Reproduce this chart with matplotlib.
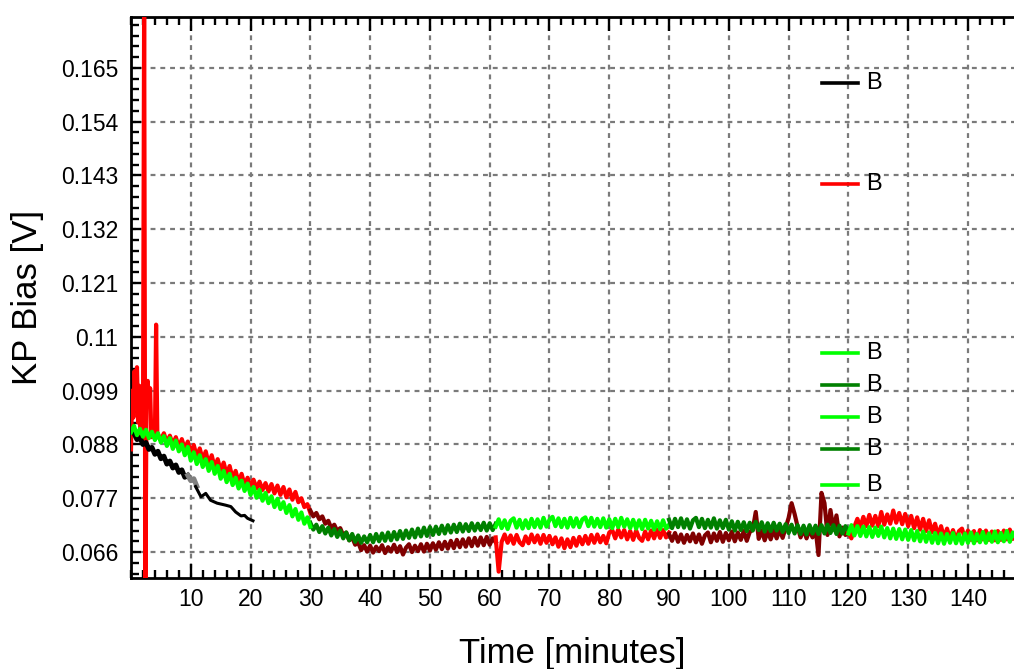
import numpy as np
import matplotlib
matplotlib.use("Agg")
import matplotlib.pyplot as plt
from matplotlib.ticker import FixedLocator, MultipleLocator

plt.rcParams['font.family'] = ['Liberation Sans', 'DejaVu Sans']

# ---------------- data ----------------
# Block 1 : 0 - 30 min
t_green1 = np.arange(0, 30.01, 0.5)
v_green1 = [0.0905, 0.0918, 0.0899, 0.0912, 0.0896, 0.0910, 0.0893, 0.0906, 0.0889, 0.0903,
            0.0884, 0.0897, 0.0877, 0.0893, 0.0871, 0.0888, 0.0866, 0.0880, 0.0858, 0.0875,
            0.0847, 0.0864, 0.0840, 0.0858, 0.0834, 0.0850, 0.0826, 0.0844, 0.0820, 0.0836,
            0.0810, 0.0826, 0.0803, 0.0820, 0.0797, 0.0812, 0.0790, 0.0806, 0.0785, 0.0800,
            0.0777, 0.0793, 0.0771, 0.0787, 0.0765, 0.0781, 0.0760, 0.0774, 0.0752, 0.0769,
            0.0748, 0.0762, 0.0740, 0.0756, 0.0733, 0.0748, 0.0726, 0.0741, 0.0718, 0.0731,
            0.0712]

t_red1_early = [0.0, 0.2, 0.4, 0.6, 0.8, 1.0, 1.2, 1.4, 1.6, 1.8, 2.0, 2.2, 2.4, 2.6, 2.8,
                3.0, 3.2, 3.4, 3.7, 4.0, 4.2, 4.4, 4.7]
v_red1_early = [0.0870, 0.0990, 0.0935, 0.1030, 0.0960, 0.1038, 0.0925, 0.1000, 0.0900, 0.0975,
                0.0895, 0.1800, 0.0550, 0.0990, 0.1010, 0.0960, 0.0995, 0.0895, 0.0905, 0.0898,
                0.1125, 0.0905, 0.0895]
t_red1_late = np.arange(5, 30.01, 0.5)
v_red1_late = [0.0890, 0.0903, 0.0884, 0.0898, 0.0880, 0.0895, 0.0874, 0.0891, 0.0870, 0.0886,
               0.0862, 0.0879, 0.0855, 0.0872, 0.0848, 0.0866, 0.0840, 0.0858, 0.0833, 0.0850,
               0.0826, 0.0843, 0.0819, 0.0836, 0.0810, 0.0826, 0.0803, 0.0820, 0.0797, 0.0812,
               0.0794, 0.0808, 0.0790, 0.0804, 0.0787, 0.0801, 0.0784, 0.0799, 0.0780, 0.0796,
               0.0777, 0.0793, 0.0772, 0.0788, 0.0767, 0.0783, 0.0762, 0.0770, 0.0752, 0.0758,
               0.0740]

t_black_noisy = np.arange(0.5, 9.51, 0.5)
v_black_noisy = [0.0903, 0.0890, 0.0894, 0.0880, 0.0884, 0.0870, 0.0874, 0.0860, 0.0866, 0.0851,
                 0.0856, 0.0840, 0.0846, 0.0832, 0.0838, 0.0823, 0.0828, 0.0813, 0.0817]
t_gray = [9.5, 10.0, 10.5, 11.0]
v_gray = [0.0817, 0.0806, 0.0810, 0.0795]
t_black_smooth = [10.8, 11.7, 12.5, 13.3, 14.4, 15.8, 16.7, 17.5, 18.4, 19.0, 19.5, 20.4]
v_black_smooth = [0.0794, 0.0773, 0.0780, 0.0766, 0.0760, 0.0756, 0.0753, 0.0742, 0.0734,
                  0.0735, 0.0729, 0.0724]

# Block 2 : 30 - 61 min
t_block2 = np.arange(30, 61.01, 0.5)
v_maroon2 = [0.0745, 0.0733, 0.0740, 0.0727, 0.0733, 0.0718, 0.0724, 0.0709, 0.0716, 0.0703,
             0.0709, 0.0694, 0.0700, 0.0684, 0.0690, 0.0675, 0.0680, 0.0664, 0.0674, 0.0661,
             0.0673, 0.0659, 0.0671, 0.0662, 0.0674, 0.0658, 0.0670, 0.0661, 0.0675, 0.0660,
             0.0672, 0.0655, 0.0669, 0.0676, 0.0660, 0.0673, 0.0662, 0.0676, 0.0661, 0.0677,
             0.0663, 0.0678, 0.0665, 0.0680, 0.0666, 0.0681, 0.0667, 0.0683, 0.0668, 0.0685,
             0.0670, 0.0686, 0.0671, 0.0688, 0.0672, 0.0689, 0.0673, 0.0690, 0.0674, 0.0691,
             0.0675, 0.0688, 0.0680]
v_dkgreen2 = [0.0720, 0.0706, 0.0716, 0.0701, 0.0713, 0.0698, 0.0710, 0.0694, 0.0707, 0.0691,
              0.0704, 0.0688, 0.0700, 0.0684, 0.0697, 0.0681, 0.0694, 0.0679, 0.0692, 0.0680,
              0.0695, 0.0680, 0.0697, 0.0682, 0.0698, 0.0683, 0.0700, 0.0684, 0.0701, 0.0686,
              0.0703, 0.0687, 0.0704, 0.0689, 0.0706, 0.0690, 0.0708, 0.0692, 0.0710, 0.0693,
              0.0711, 0.0695, 0.0712, 0.0697, 0.0714, 0.0698, 0.0715, 0.0700, 0.0716, 0.0701,
              0.0718, 0.0702, 0.0717, 0.0703, 0.0719, 0.0704, 0.0718, 0.0705, 0.0720, 0.0704,
              0.0719, 0.0705, 0.0718]

# Block 3 : 61 - 90 min
t_block3 = np.arange(61, 90.01, 0.5)
v_red3 = [0.0690, 0.0620, 0.0681, 0.0696, 0.0679, 0.0694, 0.0677, 0.0695, 0.0680, 0.0674,
          0.0692, 0.0678, 0.0696, 0.0680, 0.0694, 0.0677, 0.0695, 0.0679, 0.0693, 0.0676,
          0.0690, 0.0671, 0.0688, 0.0668, 0.0686, 0.0670, 0.0689, 0.0673, 0.0691, 0.0676,
          0.0693, 0.0677, 0.0695, 0.0679, 0.0696, 0.0680, 0.0693, 0.0678, 0.0700, 0.0705,
          0.0688, 0.0706, 0.0690, 0.0705, 0.0686, 0.0703, 0.0685, 0.0704, 0.0689, 0.0683,
          0.0702, 0.0686, 0.0704, 0.0688, 0.0706, 0.0689, 0.0705, 0.0690, 0.0700]
v_green3 = [0.0712, 0.0727, 0.0709, 0.0725, 0.0707, 0.0724, 0.0729, 0.0710, 0.0726, 0.0708,
            0.0725, 0.0709, 0.0728, 0.0711, 0.0727, 0.0710, 0.0730, 0.0712, 0.0726, 0.0732,
            0.0713, 0.0729, 0.0711, 0.0728, 0.0710, 0.0730, 0.0712, 0.0729, 0.0711, 0.0727,
            0.0731, 0.0713, 0.0730, 0.0712, 0.0728, 0.0711, 0.0729, 0.0710, 0.0727, 0.0709,
            0.0728, 0.0711, 0.0730, 0.0712, 0.0727, 0.0709, 0.0726, 0.0708, 0.0725, 0.0707,
            0.0726, 0.0708, 0.0724, 0.0706, 0.0723, 0.0707, 0.0725, 0.0708, 0.0716]

# Block 4 : 90 - 120 min
t_block4 = np.arange(90, 120.01, 0.5)
v_maroon4 = [0.0697, 0.0683, 0.0699, 0.0681, 0.0696, 0.0679, 0.0695, 0.0682, 0.0698, 0.0680,
             0.0696, 0.0677, 0.0694, 0.0700, 0.0680, 0.0698, 0.0683, 0.0701, 0.0681, 0.0699,
             0.0684, 0.0702, 0.0682, 0.0700, 0.0685, 0.0703, 0.0683, 0.0701, 0.0706, 0.0742,
             0.0687, 0.0704, 0.0684, 0.0703, 0.0686, 0.0705, 0.0688, 0.0706, 0.0689, 0.0710,
             0.0730, 0.0760, 0.0738, 0.0712, 0.0690, 0.0707, 0.0688, 0.0706, 0.0690, 0.0708,
             0.0654, 0.0781, 0.0760, 0.0695, 0.0746, 0.0706, 0.0735, 0.0692, 0.0710, 0.0695,
             0.0698]
v_dkgreen4 = [0.0726, 0.0709, 0.0728, 0.0711, 0.0729, 0.0710, 0.0727, 0.0708, 0.0725, 0.0730,
              0.0711, 0.0728, 0.0709, 0.0726, 0.0710, 0.0729, 0.0708, 0.0725, 0.0709, 0.0726,
              0.0706, 0.0723, 0.0704, 0.0722, 0.0705, 0.0721, 0.0703, 0.0720, 0.0704, 0.0722,
              0.0705, 0.0721, 0.0702, 0.0719, 0.0703, 0.0720, 0.0704, 0.0718, 0.0701, 0.0717,
              0.0699, 0.0716, 0.0698, 0.0715, 0.0697, 0.0714, 0.0696, 0.0715, 0.0698, 0.0714,
              0.0697, 0.0715, 0.0698, 0.0716, 0.0699, 0.0715, 0.0697, 0.0714, 0.0698, 0.0713,
              0.0704]

# Block 5 : 120 - 148 min
t_block5 = np.arange(120, 148.01, 0.5)
v_red5 = [0.0700, 0.0688, 0.0712, 0.0728, 0.0711, 0.0732, 0.0713, 0.0736, 0.0714, 0.0734,
          0.0713, 0.0742, 0.0716, 0.0737, 0.0718, 0.0745, 0.0720, 0.0740, 0.0717, 0.0738,
          0.0713, 0.0734, 0.0709, 0.0731, 0.0706, 0.0728, 0.0703, 0.0725, 0.0700, 0.0718,
          0.0693, 0.0713, 0.0689, 0.0708, 0.0687, 0.0705, 0.0684, 0.0703, 0.0708, 0.0687,
          0.0704, 0.0685, 0.0703, 0.0684, 0.0705, 0.0686, 0.0704, 0.0685, 0.0702, 0.0684,
          0.0703, 0.0685, 0.0704, 0.0686, 0.0706, 0.0687, 0.0695]
v_green5 = [0.0698, 0.0715, 0.0694, 0.0713, 0.0693, 0.0712, 0.0692, 0.0711, 0.0691, 0.0710,
            0.0693, 0.0712, 0.0690, 0.0709, 0.0688, 0.0708, 0.0687, 0.0707, 0.0686, 0.0706,
            0.0685, 0.0705, 0.0684, 0.0703, 0.0682, 0.0702, 0.0681, 0.0700, 0.0679, 0.0699,
            0.0678, 0.0698, 0.0677, 0.0697, 0.0679, 0.0699, 0.0678, 0.0696, 0.0677, 0.0698,
            0.0679, 0.0700, 0.0678, 0.0697, 0.0680, 0.0701, 0.0679, 0.0698, 0.0681, 0.0702,
            0.0680, 0.0699, 0.0682, 0.0703, 0.0681, 0.0700, 0.0690]

y_ticks = [0.066, 0.077, 0.088, 0.099, 0.11, 0.121, 0.132, 0.143, 0.154, 0.165]
y_tick_labels = ["0.066", "0.077", "0.088", "0.099", "0.11", "0.121", "0.132", "0.143", "0.154", "0.165"]
x_ticks = [10, 20, 30, 40, 50, 60, 70, 80, 90, 100, 110, 120, 130, 140]
x_tick_labels = [str(v) for v in x_ticks]

legend_labels = ["B", "B", "B", "B", "B", "B", "B"]
legend_colors = ["#000000", "#FF0000", "#00FF00", "#008000", "#00FF00", "#008000", "#00FF00"]

RED = "#FF0000"
GREEN = "#00FF00"
DKGREEN = "#008000"
MAROON = "#800000"

# ---------------- figure ----------------
W, H = 1014, 669
fig = plt.figure(figsize=(W / 100, H / 100), dpi=100)
ax = fig.add_axes([131 / W, (H - 578) / H, (W - 131) / W, (578 - 17) / H])

lw = 3.0
ax.plot(t_red1_early, v_red1_early, color=RED, lw=lw, zorder=3)
ax.plot(t_red1_late, v_red1_late, color=RED, lw=lw, zorder=3)
ax.plot(t_black_noisy, v_black_noisy, color="black", lw=lw + 0.6, zorder=4)
ax.plot(t_gray, v_gray, color="#808080", lw=lw + 0.6, zorder=4)
ax.plot(t_black_smooth, v_black_smooth, color="black", lw=2.2, zorder=4)
ax.plot(t_green1, v_green1, color=GREEN, lw=lw, zorder=5)

ax.plot(t_block2, v_maroon2, color=MAROON, lw=lw, zorder=3)
ax.plot(t_block2, v_dkgreen2, color=DKGREEN, lw=lw, zorder=4)

ax.plot(t_block3, v_red3, color=RED, lw=lw, zorder=3)
ax.plot(t_block3, v_green3, color=GREEN, lw=lw, zorder=4)

ax.plot(t_block4, v_maroon4, color=MAROON, lw=lw, zorder=3)
ax.plot(t_block4, v_dkgreen4, color=DKGREEN, lw=lw, zorder=4)

ax.plot(t_block5, v_red5, color=RED, lw=lw, zorder=3)
ax.plot(t_block5, v_green5, color=GREEN, lw=lw, zorder=4)

ax.set_xlim(0, 147.7)
ax.set_ylim(0.0607, 0.1754)

ax.xaxis.set_major_locator(FixedLocator(x_ticks))
ax.set_xticklabels(x_tick_labels)
ax.xaxis.set_minor_locator(MultipleLocator(2))
ax.yaxis.set_major_locator(FixedLocator(y_ticks))
ax.set_yticklabels(y_tick_labels)
ax.yaxis.set_minor_locator(MultipleLocator(0.0022))

ax.tick_params(axis='both', which='both', direction='in', top=True, right=False,
               width=1.7, labelsize=16.5)
ax.tick_params(axis='x', which='major', length=10, pad=7)
ax.tick_params(axis='x', which='minor', length=6)
ax.tick_params(axis='y', which='major', length=7, pad=9)
ax.tick_params(axis='y', which='minor', length=6)

for s in ['left', 'bottom', 'top']:
    ax.spines[s].set_linewidth(2.0)
ax.spines['right'].set_visible(False)

ax.grid(True, which='major', color='#7a7a7a', linestyle=(0, (2.2, 2.2)), linewidth=1.6)
ax.set_axisbelow(True)

ax.set_ylabel("KP Bias [V]", fontsize=25, labelpad=12)
ax.set_xlabel("Time [minutes]", fontsize=25, labelpad=19)

# legend entries (manually positioned, like the original)
legend_y = [0.8824, 0.7023, 0.4011, 0.3440, 0.2870, 0.2299, 0.1658]
for lab, col, yy in zip(legend_labels, legend_colors, legend_y):
    ax.plot([0.7826, 0.8233], [yy, yy], color=col, lw=2.6, transform=ax.transAxes,
            zorder=6, clip_on=False)
    ax.text(0.8324, yy, lab, fontsize=17, va='center', ha='left', transform=ax.transAxes,
            zorder=6)

fig.savefig("out.png", dpi=100)
